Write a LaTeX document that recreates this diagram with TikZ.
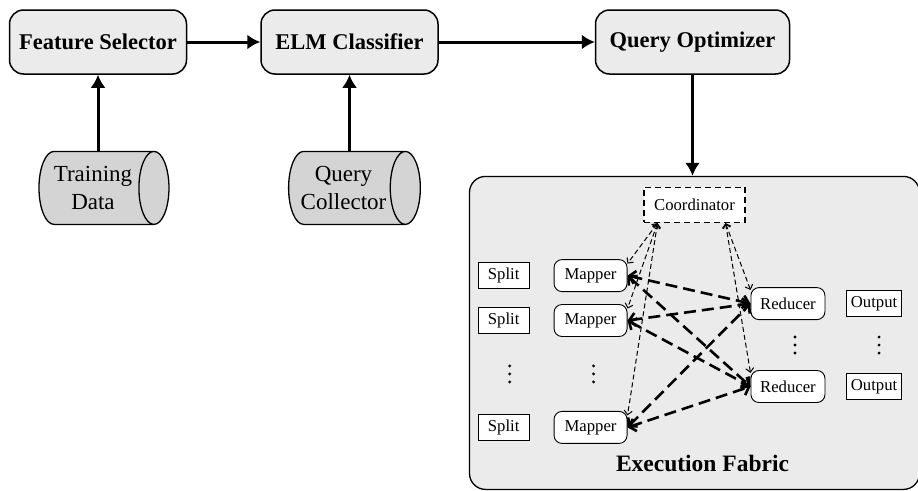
\documentclass[tikz,border=0pt]{standalone}
\usepackage{fontspec}
\IfFontExistsTF{LiberationSerif-Regular.ttf}
  {\setmainfont{LiberationSerif-Regular.ttf}[BoldFont=LiberationSerif-Bold.ttf]}
  {\setmainfont{Liberation Serif}}
\usetikzlibrary{positioning,shapes.geometric,arrows.meta,calc}

\begin{document}
\begin{tikzpicture}[
  x=1pt, y=1pt,
  block/.style={draw,line width=1.5pt,rounded corners=14pt,fill=black!8,inner xsep=8pt,
    minimum width=177pt,minimum height=64pt,font=\fontsize{22.5}{27}\selectfont\bfseries},
  store/.style={draw,line width=1.3pt,cylinder,aspect=0.6,fill=black!17,align=center,
    minimum width=73pt,minimum height=130pt,font=\fontsize{23}{28}\selectfont},
  fabric/.style={draw,line width=1.3pt,rounded corners=16pt,fill=black!8,
    minimum width=450pt,minimum height=313pt},
  coordbox/.style={draw,line width=1.4pt,dash pattern=on 6pt off 4pt,fill=white,
    minimum width=101pt,minimum height=35pt,font=\fontsize{16.7}{20}\selectfont},
  task/.style={draw,line width=0.9pt,rounded corners=8pt,fill=white,
    minimum width=73pt,minimum height=32pt,font=\fontsize{16.7}{20}\selectfont},
  io/.style={draw,line width=0.9pt,fill=white,inner xsep=4pt,
    minimum width=51pt,minimum height=26pt,font=\fontsize{16.7}{20}\selectfont},
  flow/.style={line width=3pt,-{Latex[length=13pt,width=15pt]}},
  ctrl/.style={line width=1pt,dash pattern=on 5pt off 3pt,
    {Straight Barb[length=4pt,width=8pt]}-{Straight Barb[length=4pt,width=8pt]}},
  data/.style={line width=2.6pt,dash pattern=on 12pt off 6pt,
    {Straight Barb[length=6pt,width=13pt]}-{Straight Barb[length=6pt,width=13pt]}}
]
\useasboundingbox (0,0) rectangle (918,-490);
\node[block] (fs) at (98,-42) {Feature Selector};
\node[block,right=73pt of fs] (elm) {ELM Classifier};
\node[block,right=156pt of elm,minimum width=194pt] (qo) {Query Optimizer};
\node[store,below=76pt of fs,xshift=-5pt] (td) {Training\\Data};
\node[store,below=76pt of elm,xshift=-6pt] (qc) {Query\\Collector};
\node[fabric,below=101pt of qo,xshift=2pt] (fab) {};
\node[coordbox,below=11pt of fab.north] (coord) {Coordinator};
\node[task,below left=36pt and 67pt of coord.south] (m1) {Mapper};
\node[task,below=12pt of m1] (m2) {Mapper};
\node[task,below=74pt of m2] (m3) {Mapper};
\node[io,left=24pt of m1] (s1) {Split};
\node[io,left=24pt of m2] (s2) {Split};
\node[io,left=24pt of m3] (s3) {Split};
\node[task,below right=64pt and 56pt of coord.south,minimum width=74pt] (r1) {Reducer};
\node[task,below=50pt of r1,minimum width=74pt] (r2) {Reducer};
\node[io,right=21pt of r1] (o1) {Output};
\node[io,right=21pt of r2] (o2) {Output};
\node[inner sep=0pt,above=18pt of fab.south,xshift=8pt,
  font=\fontsize{23.5}{28}\selectfont\bfseries] (fablbl) {Execution Fabric};
\coordinate[xshift=6pt] (sdots) at ($(s2)!0.5!(s3)$);
\coordinate[xshift=3pt] (mdots) at ($(m2)!0.5!(m3)$);
\coordinate[xshift=7pt] (rdots) at ($(r1)!0.5!(r2)$);
\coordinate[xshift=5pt] (odots) at ($(o1)!0.5!(o2)$);
\foreach \d in {sdots,mdots,rdots,odots}
  \foreach \dy in {-8,0,8}
    \fill ([yshift=\dy pt]\d) circle (1.6pt);
\coordinate (cm) at ([xshift=-37pt]coord.south);
\coordinate (cr) at ([xshift=31pt]coord.south);
\draw[flow] (fs) -- (elm);
\draw[flow] (elm) -- (qo);
\draw[flow] (td.north -| fs) -- (fs);
\draw[flow] (qc.north -| elm) -- (elm);
\draw[flow] (qo) -- (qo |- fab.north);
\draw[ctrl] (cm) -- (m1.18);
\draw[ctrl] (cm) -- (m2.18);
\draw[ctrl] (cm) -- (m3.18);
\draw[ctrl] (cr) -- (r1.160);
\draw[ctrl] (cr) -- (r2.160);
\draw[data] (m1.east) -- (r1.west);
\draw[data] (m1.east) -- (r2.west);
\draw[data] (m2.east) -- (r1.west);
\draw[data] (m2.east) -- (r2.west);
\draw[data] (m3.east) -- (r1.west);
\draw[data] (m3.east) -- (r2.west);
\end{tikzpicture}
\end{document}
